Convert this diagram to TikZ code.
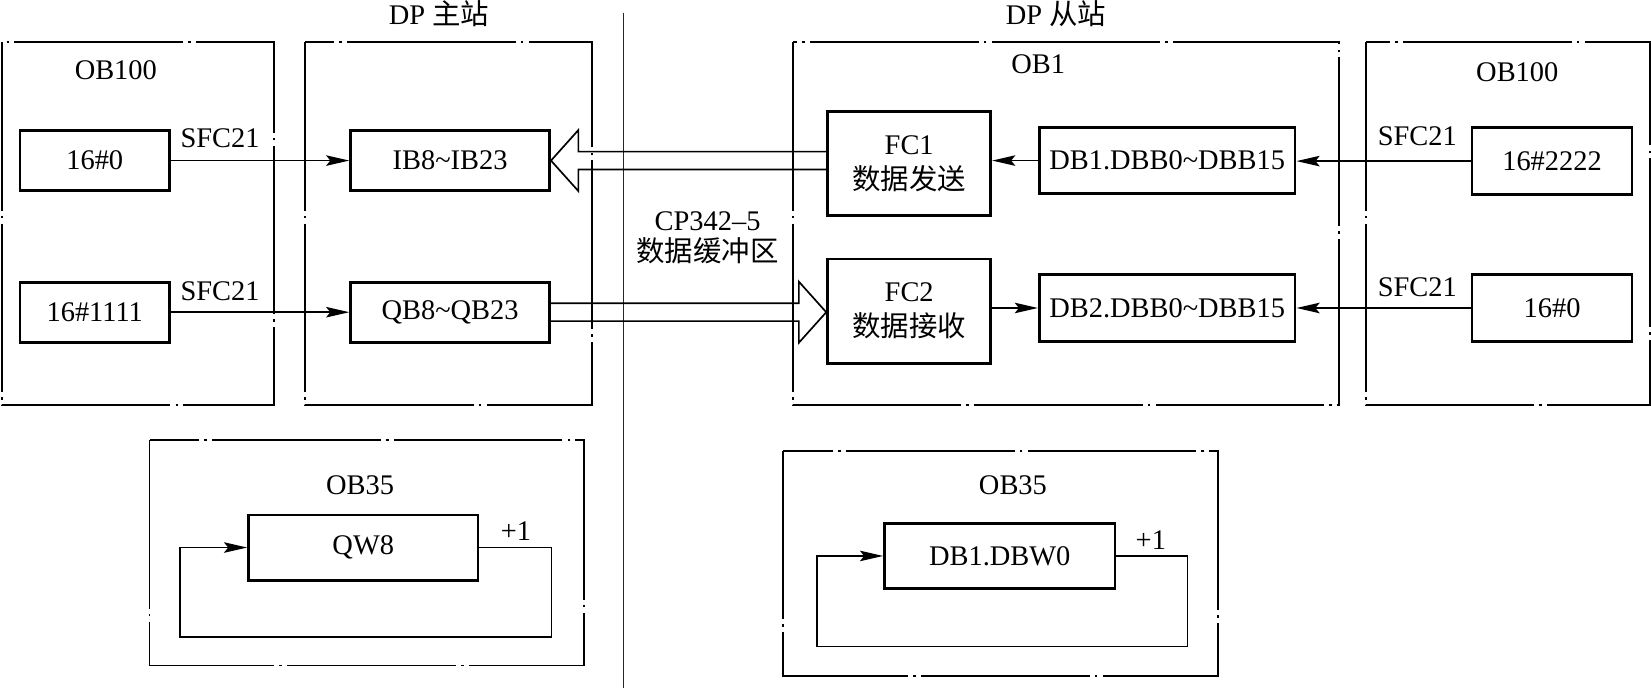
\documentclass[tikz,border=0pt]{standalone}
\usepackage{fontspec}
\setmainfont{Liberation Serif}
\newfontfamily\cjk{Noto Sans CJK SC}
\usetikzlibrary{arrows.meta,calc}
\begin{document}
\begin{tikzpicture}[x=0.5pt,y=-0.5pt,
  font=\fontsize{13.5}{16}\selectfont,
  blk/.style={draw,line width=1.3pt,inner sep=0pt,align=center},
  grp/.style={draw,line width=0.9pt,dash pattern=on 80pt off 2.5pt on 1.2pt off 2.5pt},
  arr/.style={line width=0.7pt,-{Stealth[length=11pt,width=5pt,inset=2pt]}},
  lbl/.style={inner sep=0pt,align=center},
  hol/.style={line width=0.8pt,line join=miter}]
\useasboundingbox (0,0) rectangle (1568,653.4);
% group frames
\draw[grp] (2,40) rectangle (260,385);
\draw[grp] (290,40) rectangle (562,385);
\draw[grp] (753,40) rectangle (1272,385);
\draw[grp] (1297,40) rectangle (1567,385);
\draw[grp] (142,418) rectangle (555,632);
\draw[grp] (744,428) rectangle (1157,642);
% centre divider
\coordinate (ct) at (592,12);
\coordinate (cb) at (592,653.4);
\draw[line width=0.6pt,black!85] (ct) -- (cb);
% titles and labels
\node[lbl] (t1) at (417,13) {DP {\cjk 主站}};
\node[lbl] (t2) at (1003,13) {DP {\cjk 从站}};
\node[lbl] (l1) at (110,67) {OB100};
\node[lbl] (l2) at (986,61) {OB1};
\node[lbl] (l3) at (1441,69) {OB100};
\node[lbl] (s1) at (209,131) {SFC21};
\node[lbl] (s2) at (209,277) {SFC21};
\node[lbl] (s3) at (1346,129) {SFC21};
\node[lbl] (s4) at (1346,273) {SFC21};
\node[lbl,font=\fontsize{13.5}{14.5}\selectfont] (cp) at (672,226) {CP342–5\\{\cjk 数据缓冲区}};
\node[lbl] (o1) at (342,461) {OB35};
\node[lbl] (o2) at (962,461) {OB35};
\node[lbl] (p1) at (490,504) {+1};
\node[lbl] (p2) at (1093,513) {+1};
% blocks
\node[blk,minimum width=71pt,minimum height=28.5pt] (a0) at (90,152.5) {16\#0};
\node[blk,minimum width=94.5pt,minimum height=28.5pt] (ib) at (427.5,152.5) {IB8\textasciitilde IB23};
\node[blk,minimum width=71pt,minimum height=28.5pt] (a1) at (90,296.5) {16\#1111};
\node[blk,minimum width=94.5pt,minimum height=28.5pt] (qb) at (427.5,296.5) {QB8\textasciitilde QB23};
\node[blk,minimum width=77.5pt,minimum height=49.5pt,font=\fontsize{13.5}{16.7}\selectfont] (fc1) at (863.5,155.5) {FC1\\{\cjk 数据发送}};
\node[blk,minimum width=77.5pt,minimum height=49.5pt,font=\fontsize{13.5}{16.7}\selectfont] (fc2) at (863.5,295.5) {FC2\\{\cjk 数据接收}};
\node[blk,minimum width=121.5pt,minimum height=31.5pt] (db1) at (1108.5,152.5) {DB1.DBB0\textasciitilde DBB15};
\node[blk,minimum width=121.5pt,minimum height=32pt] (db2) at (1108.5,292.5) {DB2.DBB0\textasciitilde DBB15};
\node[blk,minimum width=76pt,minimum height=32pt] (h1) at (1474,153) {16\#2222};
\node[blk,minimum width=76pt,minimum height=32pt] (h0) at (1474,292.5) {16\#0};
\node[blk,minimum width=109pt,minimum height=31pt] (qw) at (345,520) {QW8};
\node[blk,minimum width=109.5pt,minimum height=31pt] (dbw) at (949.5,528) {DB1.DBW0};
% plain arrows
\draw[arr] (a0.east) -- (ib.west);
\draw[arr] (a1.east) -- (qb.west);
\draw[arr] (db1.west) -- (db1.west -| fc1.east);
\draw[arr] (h1.west) -- (h1.west -| db1.east);
\draw[arr] (fc2.east |- db2.west) -- (db2.west);
\draw[arr] (h0.west) -- (h0.west -| db2.east);
% hollow arrows
\draw[hol] ($(fc1.west |- ib.east)+(0,-8.5)$) -- ($(ib.east)+(26,-8.5)$) -- ++(0,-20.5)
  -- (ib.east) -- ($(ib.east)+(26,29)$) -- ++(0,-20.5) -- ($(fc1.west |- ib.east)+(0,8.5)$);
\draw[hol] ($(qb.east)+(0,-8.5)$) -- ($(fc2.west |- qb.east)+(-26,-8.5)$) -- ++(0,-20.5)
  -- (fc2.west |- qb.east) -- ($(fc2.west |- qb.east)+(-26,29)$) -- ++(0,-20.5) -- ($(qb.east)+(0,8.5)$);
% increment loops
\draw[arr] (qw.east) -| (524,605) -| (171,520) -- (qw.west);
\draw[arr] (dbw.east) -| (1128,614) -| (776,528) -- (dbw.west);
\end{tikzpicture}
\end{document}
